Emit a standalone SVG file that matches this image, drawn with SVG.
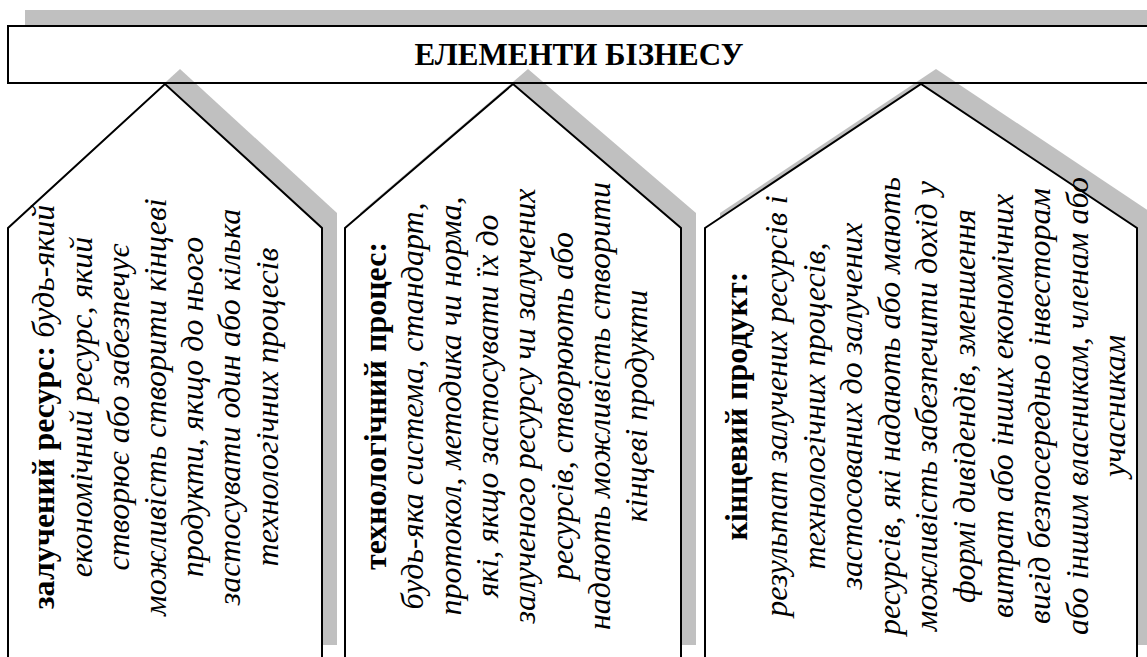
<svg xmlns="http://www.w3.org/2000/svg" width="1147" height="657" viewBox="0 0 1147 657">
  <style>
    .shadow { fill: #c0c0c0; stroke: none; }
    .box { fill: #ffffff; stroke: #000000; stroke-width: 2; }
    .banner-line { fill: none; stroke: #000000; stroke-width: 2; }
    text { font-family: 'Liberation Serif', 'DejaVu Serif', serif; fill: #000; }
    .title { font-weight: bold; font-size: 31px; }
    .body { font-size: 32px; font-style: italic; }
    .head { font-weight: bold; font-style: normal; }
  </style>
  <defs>
    <polygon id="pent1" points="8,228 165,84 322,228 322,660 8,660"/>
    <polygon id="pent2" points="345,228 513,84 681,228 681,660 345,660"/>
    <polygon id="pent3" points="705,228 921,84 1137,228 1137,660 705,660"/>
  </defs>

  <!-- banner -->
  <g id="banner">
    <rect class="shadow" x="25" y="10" width="1140" height="20"/>
    <rect x="8" y="26" width="1142" height="57" fill="#ffffff"/>
  </g>

  <!-- drop shadows of the three element panels -->
  <g id="shadows">
    <use href="#pent1" class="shadow" transform="translate(15,-15)"/>
    <use href="#pent2" class="shadow" transform="translate(15,-15)"/>
    <use href="#pent3" class="shadow" transform="translate(15,-15)"/>
  </g>

  <g id="banner-frame">
    <rect class="banner-line" x="8" y="26" width="1142" height="57"/>
    <text class="title" x="579" y="65" text-anchor="middle">ЕЛЕМЕНТИ БІЗНЕСУ</text>
  </g>

  <!-- element 1: engaged resource -->
  <g id="node-resource">
    <use href="#pent1" class="box"/>
    <g transform="rotate(-90)" text-anchor="middle">
      <text class="body" x="-407" y="54.3"><tspan class="head">залучений ресурс:</tspan> будь-який</text>
      <text class="body" x="-407" y="91.5">економічний ресурс, який</text>
      <text class="body" x="-407" y="128.7">створює або забезпечує</text>
      <text class="body" x="-407" y="165.9">можливість створити кінцеві</text>
      <text class="body" x="-407" y="203.1">продукти, якщо до нього</text>
      <text class="body" x="-407" y="240.3">застосувати один або кілька</text>
      <text class="body" x="-407" y="277.5">технологічних процесів</text>
    </g>
  </g>

  <!-- element 2: technological process -->
  <g id="node-process">
    <use href="#pent2" class="box"/>
    <g transform="rotate(-90)" text-anchor="middle">
      <text class="body" x="-406" y="386"><tspan class="head">технологічний процес:</tspan></text>
      <text class="body" x="-406" y="423.3">будь-яка система, стандарт,</text>
      <text class="body" x="-406" y="460.6">протокол, методика чи норма,</text>
      <text class="body" x="-406" y="497.9">які, якщо застосувати їх до</text>
      <text class="body" x="-406" y="535.2">залученого ресурсу чи залучених</text>
      <text class="body" x="-406" y="572.5">ресурсів, створюють або</text>
      <text class="body" x="-406" y="609.8">надають можливість створити</text>
      <text class="body" x="-406" y="647.1">кінцеві продукти</text>
    </g>
  </g>

  <!-- element 3: final product -->
  <g id="node-product">
    <use href="#pent3" class="box"/>
    <g transform="rotate(-90)" text-anchor="middle">
      <text class="body" x="-406" y="747"><tspan class="head">кінцевий продукт:</tspan></text>
      <text class="body" x="-406" y="787">результат залучених ресурсів і</text>
      <text class="body" x="-406" y="824.6">технологічних процесів,</text>
      <text class="body" x="-406" y="862.2">застосованих до залучених</text>
      <text class="body" x="-406" y="899.8">ресурсів, які надають або мають</text>
      <text class="body" x="-406" y="937.4">можливість забезпечити дохід у</text>
      <text class="body" x="-406" y="975">формі дивідендів, зменшення</text>
      <text class="body" x="-406" y="1012.6">витрат або інших економічних</text>
      <text class="body" x="-406" y="1050.2">вигід безпосередньо інвесторам</text>
      <text class="body" x="-406" y="1087.8">або іншим власникам, членам або</text>
      <text class="body" x="-406" y="1125.4">учасникам</text>
    </g>
  </g>
</svg>
